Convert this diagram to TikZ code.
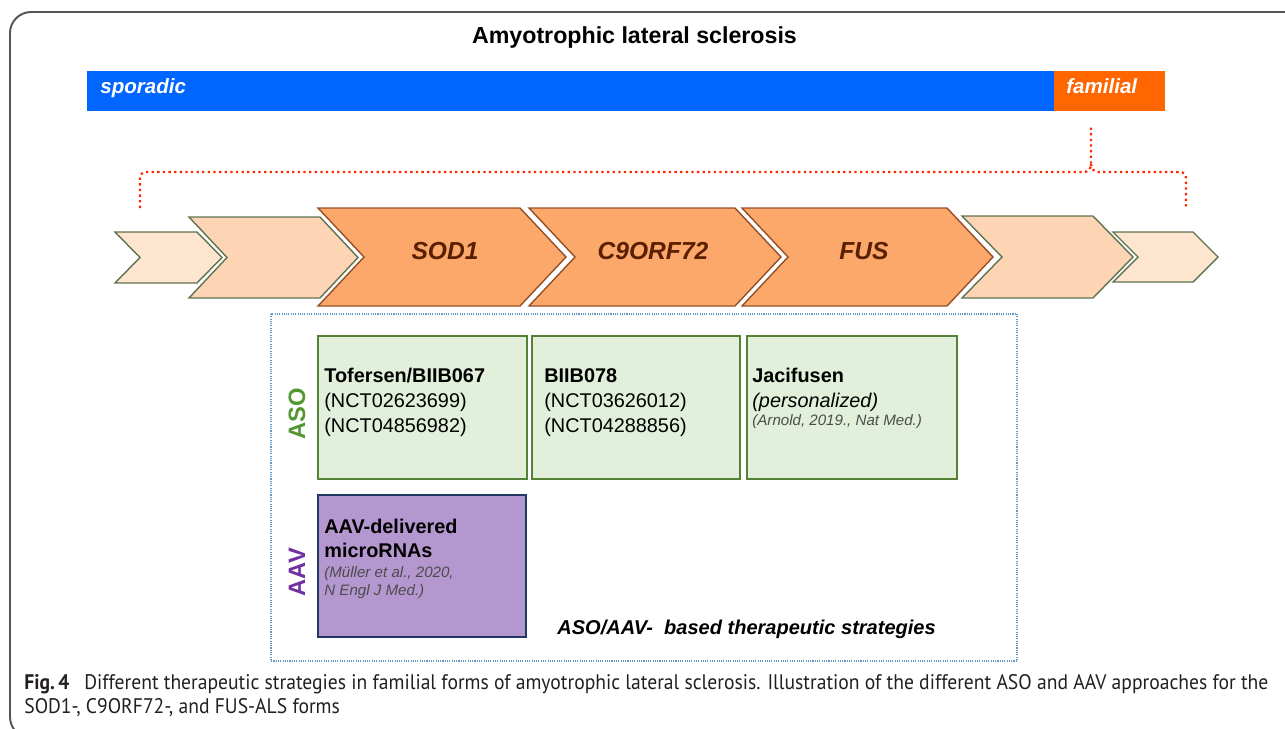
\documentclass[tikz,border=0pt]{standalone}
\usepackage{fontspec}
\setmainfont{Liberation Sans}
\newfontfamily\capfont[FakeStretch=0.93]{PT Sans}
\newcommand{\fsz}[1]{\fontsize{#1}{#1}\selectfont}
\definecolor{sporblue}{RGB}{0,102,255}
\definecolor{famorange}{RGB}{255,102,0}
\definecolor{bracketred}{RGB}{255,40,0}
\definecolor{chevorange}{RGB}{251,168,106}
\definecolor{chevlight}{RGB}{253,213,180}
\definecolor{chevpale}{RGB}{254,229,208}
\definecolor{chevedge}{RGB}{95,115,80}
\definecolor{chevbrown}{RGB}{150,80,40}
\definecolor{genetext}{RGB}{90,30,0}
\definecolor{asofill}{RGB}{226,239,218}
\definecolor{asoedge}{RGB}{84,130,53}
\definecolor{asotext}{RGB}{84,150,50}
\definecolor{aavfill}{RGB}{180,151,207}
\definecolor{aavedge}{RGB}{32,56,100}
\definecolor{aavtext}{RGB}{112,48,160}
\definecolor{boxblue}{RGB}{100,150,200}
\definecolor{framegray}{RGB}{85,85,85}
\definecolor{captext}{RGB}{35,31,32}
\tikzset{
  txt/.style={anchor=base west,inner sep=0pt},
  barlabel/.style={txt,text=white,font=\fsz{11.7}\bfseries\itshape},
  palechev/.style={fill=chevpale,draw=chevedge,line width=0.8pt},
  lightchev/.style={fill=chevlight,draw=chevedge,line width=0.8pt},
  genechev/.style={fill=chevorange,draw=chevbrown,line width=0.8pt},
  genelabel/.style={text=genetext,font=\fsz{14}\bfseries\itshape},
  bracket/.style={bracketred,line width=1.3pt,dash pattern=on 1.3pt off 1.9pt},
  stratbox/.style={draw=boxblue,line width=0.6pt,dash pattern=on 0.6pt off 0.7pt},
  asobox/.style={fill=asofill,draw=asoedge,line width=1.1pt},
  aavbox/.style={fill=aavfill,draw=aavedge,line width=1.1pt},
  drug/.style={txt,font=\fsz{11.3}\bfseries},
  trial/.style={txt,font=\fsz{11.3}},
  refnote/.style={txt,text=black!70,font=\fsz{8.6}\itshape},
  kind/.style={rotate=90,font=\fsz{13.5}\bfseries},
  caption/.style={txt,text=captext,font=\capfont\fsz{12}}
}
\newcommand{\chevpath}[7]{%
  \draw[#1] (#2,#4) -- (#3,#4) -- ({#3+#7},#6) -- (#3,#5) -- (#2,#5) -- ({#2+#7},#6) -- cycle;}
\begin{document}
\begin{tikzpicture}[x=0.02cm,y=-0.02cm]
\useasboundingbox (0,0) rectangle (1285,728);
\draw[framegray,line width=1.1pt,rounded corners=12] (10,12) rectangle (1310,738);
\node[anchor=base,inner sep=0pt,font=\fsz{13.2}\bfseries] (title) at (634.5,43) {Amyotrophic lateral sclerosis};
\fill[sporblue] (87,71) rectangle (1054,111);
\fill[famorange] (1054,71) rectangle (1165,111);
\node[barlabel] (spor) at (100,93) {sporadic};
\node[barlabel] (fam) at (1066,93) {familial};
\coordinate (famtick) at (1091,125);
\coordinate (lefttick) at (140,208);
\coordinate (righttick) at (1186,207);
\draw[bracket] (lefttick) -- (140,178) to[out=90,in=180] (146,172) -- (1084,172)
  to[out=0,in=-90] (1091,164) -- (famtick);
\draw[bracket] (1091,164) to[out=-90,in=180] (1098,172) -- (1180,172)
  to[out=0,in=90] (1186,178) -- (righttick);
\chevpath{palechev}{115}{197}{232}{283}{257.5}{25}
\chevpath{lightchev}{189}{320}{217}{298}{257.5}{38}
\chevpath{genechev}{318}{520}{208}{306}{257}{46}
\chevpath{genechev}{529}{735}{208}{306}{257}{46}
\chevpath{genechev}{742}{947}{208}{306}{257}{46}
\chevpath{lightchev}{962}{1093}{216}{298}{257}{40}
\chevpath{palechev}{1113}{1193}{232}{282}{257}{25}
\node[genelabel] (sod1) at (445,251) {SOD1};
\node[genelabel] (c9orf72) at (653,251) {C9ORF72};
\node[genelabel] (fus) at (864,251) {FUS};
\draw[stratbox] (271,314) rectangle (1017,661);
\draw[asobox] (318,336) rectangle (527,479);
\draw[asobox] (532,336) rectangle (740,479);
\draw[asobox] (747,336) rectangle (957,479);
\draw[aavbox] (318,495) rectangle (526,637);
\node[kind,text=asotext] (aso) at (297,414) {ASO};
\node[kind,text=aavtext] (aav) at (297,572) {AAV};
\node[drug] (tof) at (324,382) {Tofersen/BIIB067};
\node[trial] (tofa) at (324,407) {(NCT02623699)};
\node[trial] (tofb) at (324,432) {(NCT04856982)};
\node[drug] (biib) at (544,382) {BIIB078};
\node[trial] (biiba) at (544,407) {(NCT03626012)};
\node[trial] (biibb) at (544,432) {(NCT04288856)};
\node[drug] (jaci) at (752,382) {Jacifusen};
\node[trial,font=\fsz{11.3}\itshape] (jacia) at (752,407) {(personalized)};
\node[refnote] (jacib) at (752,425) {(Arnold, 2019., Nat Med.)};
\node[drug] (mirna) at (324,533) {AAV-delivered};
\node[drug] (mirnb) at (324,557) {microRNAs};
\node[refnote] (mirnc) at (324,577) {(M\"uller et al., 2020,};
\node[refnote] (mirnd) at (324,595) {N Engl J Med.)};
\node[txt,font=\fsz{11.4}\bfseries\itshape] (strat) at (557,634) {ASO/AAV-\ \ based therapeutic strategies};
\node[caption] (cap1) at (24,689) {\textbf{Fig.\,4}\hspace{0.7em}Different therapeutic strategies in familial forms of amyotrophic lateral sclerosis. Illustration of the different ASO and AAV approaches for the};
\node[caption] (cap2) at (24,713) {SOD1-, C9ORF72-, and FUS-ALS forms};
\end{tikzpicture}
\end{document}
